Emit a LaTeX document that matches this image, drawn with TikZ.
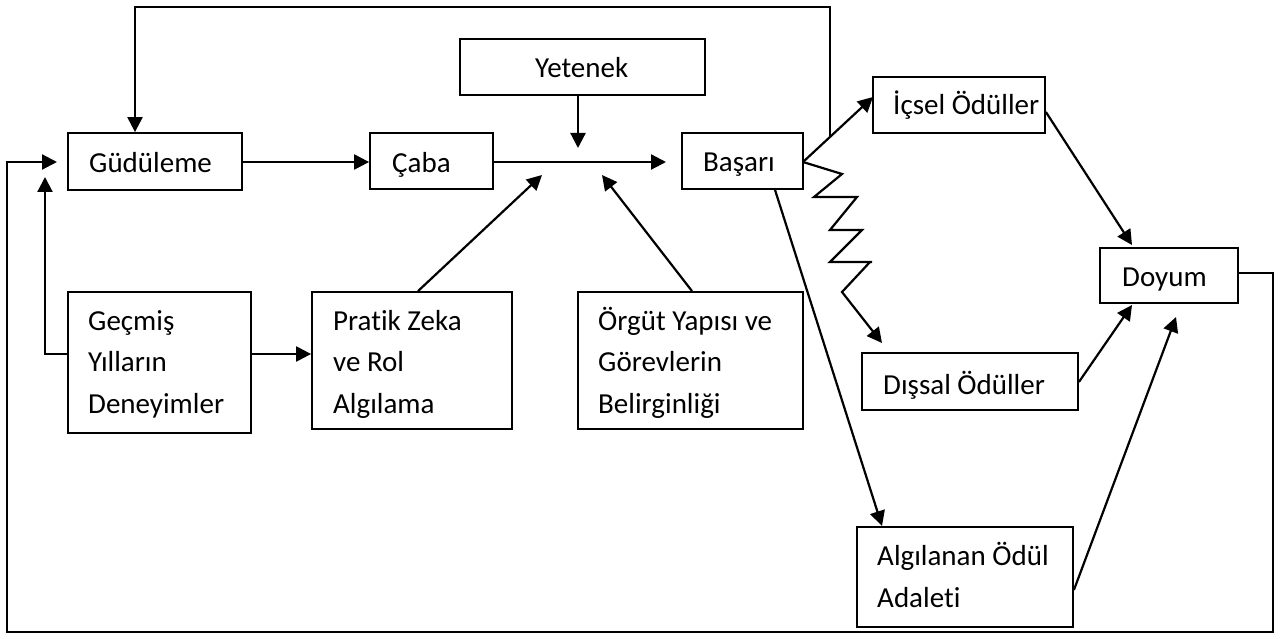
\documentclass[tikz,border=0pt]{standalone}
\usepackage{fontspec}
\setmainfont{Carlito}[Ligatures=NoCommon]
\usetikzlibrary{arrows.meta,calc}
\begin{document}
\begin{tikzpicture}[x=1pt,y=-1pt,
  box/.style={draw,line width=1.8pt,inner sep=0pt},
  lbl/.style={anchor=base west,inner sep=0pt,font=\fontsize{29pt}{35pt}\selectfont},
  con/.style={line width=2.2pt},
  arr/.style={con,-{Triangle[length=15pt,width=15pt]}}]
\useasboundingbox (0,0) rectangle (1288,639);
\newcommand\bx[5]{\node[box,minimum width={#4pt-#2pt},minimum height={#5pt-#3pt}] (#1) at ({(#2+#4)/2},{(#3+#5)/2}) {};}
\bx{gud}{68}{133}{242}{190}
\bx{cab}{370}{133}{493}{189}
\bx{yet}{460}{39}{705}{95}
\bx{bas}{682}{133}{803}{189}
\bx{gec}{68}{292}{251}{433}
\bx{pra}{312}{292}{512}{429}
\bx{org}{578}{292}{803}{429}
\bx{ics}{873}{77}{1045}{133}
\bx{dis}{862}{353}{1078}{410}
\bx{alg}{857}{527}{1073}{627}
\bx{doy}{1100}{248}{1238}{303}
% texts
\node[lbl] (t-gud) at (89,173) {Güdüleme};
\node[lbl] (t-cab) at (392,173) {Çaba};
\node[lbl] (t-yet) at (535,78) {Yetenek};
\node[lbl] (t-bas) at (703,172) {Başarı};
\node[lbl] (t-ics) at (893,115) {İçsel Ödüller};
\node[lbl] (t-doy) at (1122,287) {Doyum};
\node[lbl] (t-gec1) at (88,330) {Geçmiş};
\node[lbl] (t-gec2) at (88,371) {Yılların};
\node[lbl] (t-gec3) at (88,413) {Deneyimler};
\node[lbl] (t-pra1) at (333,330) {Pratik Zeka};
\node[lbl] (t-pra2) at (333,371) {ve Rol};
\node[lbl] (t-pra3) at (333,413) {Algılama};
\node[lbl] (t-org1) at (598,330) {Örgüt Yapısı ve};
\node[lbl] (t-org2) at (598,371) {Görevlerin};
\node[lbl] (t-org3) at (598,413) {Belirginliği};
\node[lbl] (t-dis) at (883,394) {Dışsal Ödüller};
\node[lbl] (t-alg1) at (877,565) {Algılanan Ödül};
\node[lbl] (t-alg2) at (877,607) {Adaleti};
% coordinates
\coordinate (basR) at (803,162);
\coordinate (icsT) at (873,97);
\coordinate (topj) at (830,137);
\coordinate (j0) at (666,162);
\coordinate (j1) at (578,148);
\coordinate (j2) at (542,175);
\coordinate (j3) at (602,175);
\coordinate (gudIn) at (57,162);
\coordinate (gudIn2) at (45,177);
% main flow
\draw[arr] (gud.east |- basR) -- (cab.west |- basR);
\draw[arr] (cab.east |- basR) -- (j0);
\draw[arr] (yet.south -| j1) -- (j1);
\draw[arr] (pra.north -| 418,0) -- (j2);
\draw[arr] (org.north -| 692,0) -- (j3);
\draw[arr] (gec.east |- 0,354) -- (pra.west |- 0,354);
\draw[arr] (gec.west |- 0,354) -- (45,354) -- (gudIn2);
\draw[arr] (topj) -- (830,7) -- (135,7) -- (gud.north -| 135,0);
% Basari outputs
\draw[arr] (basR) -- (icsT);
\draw[arr] (bas.south -| 775,0) -- (882,526);
\draw[arr] (basR) -- (842,174) -- (814,197) -- (857,197) -- (830,230) -- (862,230) -- (830,262) -- (872,262)
  (870,262) -- (842,292) -- (882,343);
% to Doyum
\draw[arr] (ics.east |- 0,112) -- (1132,245);
\draw[arr] (dis.east |- 0,382) -- (1132,305);
\draw[arr] (alg.east |- 0,590) -- (1176,317);
% big loop
\draw[arr] (doy.east |- 0,273) -- (1273,273) -- (1273,632) -- (7,632) -- (7,162) -- (gudIn);
\end{tikzpicture}
\end{document}
